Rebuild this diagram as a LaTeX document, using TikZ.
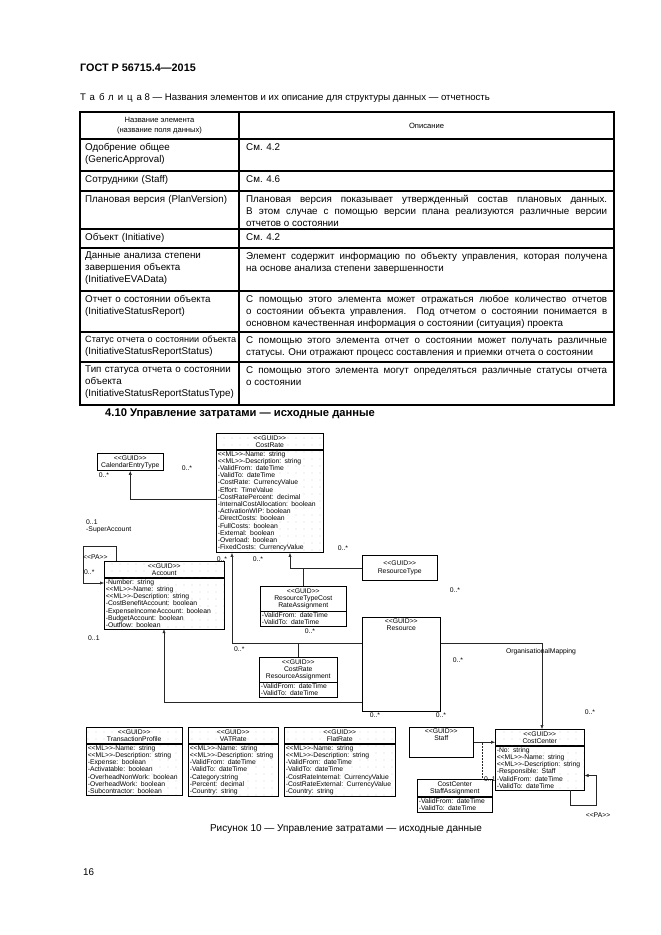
\documentclass[tikz,border=0pt]{standalone}
\usepackage{fontspec}
\usepackage{graphicx}
\setmainfont{Liberation Sans}
\usetikzlibrary{arrows.meta,positioning,patterns}

\newcommand{\stereo}[1]{<{}<#1>{}>}

% sparse grid dots of the drawing sheet inside some classes
\pgfdeclarepatternformonly{griddots}{\pgfpoint{-0.5pt}{-0.5pt}}{\pgfpoint{0.5pt}{0.5pt}}{\pgfpoint{8pt}{7pt}}
  {\pgfpathcircle{\pgfpointorigin}{0.33pt}\pgfusepath{fill}}

\tikzset{
  tline/.style={line width=1.1pt},
  cellL/.style={anchor=north west, inner sep=0pt, text width=153pt, align=left,
    font=\fontsize{9.8}{12}\selectfont},
  cellR/.style={anchor=north west, inner sep=0pt, text width=361pt, align=justify,
    font=\fontsize{9.8}{12}\selectfont},
  umlfont/.style={font=\fontsize{6.8}{7.2}\selectfont},
  clshead/.style={draw, line width=0.5pt, anchor=north west, inner xsep=1.5pt,
    inner ysep=2pt, align=center, text width=#1, umlfont},
  clsbody/.style={draw, line width=0.5pt, anchor=north west, inner xsep=1.5pt,
    inner ysep=1.5pt, align=left, text width=#1, umlfont},
  clsbox/.style={draw, line width=0.5pt, anchor=north west, inner sep=0pt},
  clsname/.style={anchor=north, inner sep=1.5pt, align=center, umlfont},
  dotbg/.style={pattern=griddots, pattern color=black!45},
  mult/.style={inner sep=0pt, umlfont},
  link/.style={line width=0.5pt, draw=black!85},
  tip/.style={-{Latex[length=4pt,width=3.2pt]}},
}

\begin{document}
\begin{tikzpicture}[x=1pt,y=-1pt]
  \useasboundingbox (0,0) rectangle (661,935);
  \fill[white] (0,0) rectangle (661,935);

  % page head and table caption
  \node[anchor=west, inner sep=0pt, font=\fontsize{10.8}{12}\selectfont\bfseries] (gost) at (80,68) {ГОСТ Р 56715.4—2015};
  \node[anchor=west, inner sep=0pt, font=\fontsize{9.6}{11}\selectfont] (tcap) at (80,98)
    {{\addfontfeature{LetterSpace=42}Таблица} 8 — Названия элементов и их описание для структуры данных — отчетность};

  % table grid
  \draw[tline] (80,112) rectangle (614,405);
  \draw[tline] (239,112) -- (239,405);
  \foreach \y in {139,171,191,229,248,291,332,362}
    \draw[tline] (80,\y) -- (614,\y);

  \node[align=center, font=\fontsize{7.6}{9.5}\selectfont] (th1) at (159.5,125.5) {Название элемента\\(название поля данных)};
  \node[font=\fontsize{7.6}{9.5}\selectfont] (th2) at (426.5,125.5) {Описание};

  \node[cellL] (r1l) at (85,143) {Одобрение общее\\(GenericApproval)};
  \node[cellR] (r1r) at (246,143) {См. 4.2};
  \node[cellL] (r2l) at (85,175) {Сотрудники (Staff)};
  \node[cellR] (r2r) at (246,175) {См. 4.6};
  \node[cellL] (r3l) at (85,195) {Плановая версия (PlanVersion)};
  \node[cellR] (r3r) at (246,195) {Плановая версия показывает утвержденный состав плановых данных.\linebreak
    В~этом случае с помощью версии плана реализуются различные версии\linebreak отчетов о состоянии};
  \node[cellL] (r4l) at (85,233) {Объект (Initiative)};
  \node[cellR] (r4r) at (246,233) {См. 4.2};
  \node[cellL] (r5l) at (85,252) {Данные анализа степени\\завершения объекта\\(InitiativeEVAData)};
  \node[cellR] (r5r) at (246,252) {Элемент содержит информацию по объекту управления, которая получена\linebreak
    на основе анализа степени завершенности};
  \node[cellL] (r6l) at (85,295) {Отчет о состоянии объекта\\(InitiativeStatusReport)};
  \node[cellR] (r6r) at (246,295) {С помощью этого элемента может отражаться любое количество отчетов\linebreak
    о состоянии объекта управления. Под отчетом о состоянии понимается в\linebreak
    основном качественная информация о состоянии (ситуация) проекта};
  \node[cellL] (r7l) at (85,336) {\resizebox{151pt}{!}{Статус отчета о состоянии объекта}\\(InitiativeStatusReportStatus)};
  \node[cellR] (r7r) at (246,336) {С помощью этого элемента отчет о состоянии может получать различные\linebreak
    статусы. Они отражают процесс составления и приемки отчета о состоянии};
  \node[cellL] (r8l) at (85,366) {Тип статуса отчета о состоянии\\объекта\\(InitiativeStatusReportStatusType)};
  \node[cellR] (r8r) at (246,366) {С помощью этого элемента могут определяться различные статусы отчета\linebreak
    о состоянии};

  \node[anchor=west, inner sep=0pt, font=\fontsize{11.2}{13}\selectfont\bfseries] (sec) at (105,414)
    {4.10 Управление затратами — исходные данные};

  % classes, top part
  \node[clshead=63pt] (cet) at (97,453) {\stereo{GUID}\\CalendarEntryType};

  \node[clshead=104pt, dotbg] (crh) at (216,433) {\stereo{GUID}\\CostRate};
  \node[clsbody=104pt, dotbg] (crb) at (crh.south west) {\stereo{ML}-Name: string\\\stereo{ML}-Description: string\\
    -ValidFrom: dateTime\\-ValidTo: dateTime\\-CostRate: CurrencyValue\\-Effort: TimeValue\\
    -CostRatePercent: decimal\\-InternalCostAllocation: boolean\\-ActivationWIP: boolean\\
    -DirectCosts: boolean\\-FullCosts: boolean\\-External: boolean\\-Overload: boolean\\
    -FixedCosts: CurrencyValue};

  \node[clshead=117pt, dotbg] (acch) at (104,561) {\stereo{GUID}\\Account};
  \node[clsbody=117pt, dotbg] (accb) at (acch.south west) {-Number: string\\\stereo{ML}-Name: string\\
    \stereo{ML}-Description: string\\-CostBenefitAccount: boolean\\-ExpenseIncomeAccount: boolean\\
    -BudgetAccount: boolean\\-Outflow: boolean};

  \node[clsbox, minimum width=75pt, minimum height=25pt, align=center, umlfont] (rt) at (362,555)
    {\stereo{GUID}\\ResourceType};

  \node[clshead=83pt] (rtch) at (260,586) {\stereo{GUID}\\ResourceTypeCost\\RateAssignment};
  \node[clsbody=83pt] (rtcb) at (rtch.south west) {-ValidFrom: dateTime\\-ValidTo: dateTime};

  \node[clshead=75pt] (crrh) at (259,657) {\stereo{GUID}\\CostRate\\ResourceAssignment};
  \node[clsbody=75pt] (crrb) at (crrh.south west) {-ValidFrom: dateTime\\-ValidTo: dateTime};

  \node[clsbox, minimum width=78pt, minimum height=94pt] (res) at (362,617) {};
  \node[clsname] (resn) at (res.north) {\stereo{GUID}\\Resource};

  % classes, bottom row
  \node[clshead=93pt, dotbg] (tph) at (86,727) {\stereo{GUID}\\TransactionProfile};
  \node[clsbody=93pt, dotbg] (tpb) at (tph.south west) {\stereo{ML}-Name: string\\\stereo{ML}-Description: string\\
    -Expense: boolean\\-Activatable: boolean\\-OverheadNonWork: boolean\\-OverheadWork: boolean\\
    -Subcontractor: boolean};

  \node[clshead=87pt, dotbg] (vath) at (188,727) {\stereo{GUID}\\VATRate};
  \node[clsbody=87pt, dotbg] (vatb) at (vath.south west) {\stereo{ML}-Name: string\\\stereo{ML}-Description: string\\
    -ValidFrom: dateTime\\-ValidTo: dateTime\\-Category:string\\-Percent: decimal\\-Country: string};

  \node[clshead=108pt, dotbg] (flh) at (284,727) {\stereo{GUID}\\FlatRate};
  \node[clsbody=108pt, dotbg] (flb) at (flh.south west) {\stereo{ML}-Name: string\\\stereo{ML}-Description: string\\
    -ValidFrom: dateTime\\-ValidTo: dateTime\\-CostRateInternal: CurrencyValue\\
    -CostRateExternal: CurrencyValue\\-Country: string};

  \node[clsbox, minimum width=64pt, minimum height=30pt] (staff) at (409,727) {};
  \node[clsname] (staffn) at (staff.north) {\stereo{GUID}\\Staff};

  \node[clshead=86pt, dotbg] (cch) at (495,729) {\stereo{GUID}\\CostCenter};
  \node[clsbody=86pt, dotbg] (ccb) at (cch.south west) {-No: string\\\stereo{ML}-Name: string\\
    \stereo{ML}-Description: string\\-Responsible: Staff\\-ValidFrom: dateTime\\-ValidTo: dateTime};

  \node[clshead=72pt] (cssh) at (417,779) {CostCenter\\StaffAssignment};
  \node[clsbody=72pt] (cssb) at (cssh.south west) {-ValidFrom: dateTime\\-ValidTo: dateTime};

  % associations
  \draw[link,tip] ([yshift=-50pt]crb.north west) -| (cet.south);
  \draw[link,tip] ([xshift=12pt]acch.north west) -- ++(0,-15) -- ++(-33,0)
    |- ([yshift=-22pt]acch.north west);
  \draw[link,tip] (rt.west) -| ([xshift=74pt]crb.south west) coordinate (crrt);
  \draw[link] (rtch.north) -- (rtch.north |- rt.west);
  \draw[link,tip] ([yshift=-26pt]res.north west) coordinate (crres) -| ([xshift=16pt]crb.south west);
  \draw[link] (crrh.north) -- (crrh.north |- crres);
  \draw[link,tip] ([yshift=-85pt]res.north west) -| ([xshift=60pt]accb.south west);
  \draw[link,tip] ([yshift=-26pt]res.north east) -| ([xshift=47pt]cch.north west);
  \draw[link,tip] (staff.east) -- (staff.east -| cch.west) coordinate (ccst);
  \draw[link,densely dotted] ([xshift=65pt]cssh.north west) -- ([xshift=65pt]cssh.north west |- staff.east);
  \draw[link,tip] ([xshift=-14pt]ccb.south east) -- ++(0,15) -- ++(26,0)
    |- ([yshift=-30pt]ccb.north east);

  % multiplicities and role names
  \node[mult] (m1) at (104,475) {0..*};
  \node[mult] (m2) at (187,468) {0..*};
  \node[mult] (m3) at (222,559) {0..*};
  \node[mult] (m4) at (258,559) {0..*};
  \node[mult] (m5) at (343,548) {0..*};
  \node[mult] (m6) at (455,590) {0..*};
  \node[mult, anchor=west] (m7) at (86,522) {0..1};
  \node[mult, anchor=west] (sup) at (86,530) {-SuperAccount};
  \node[mult, anchor=west] (pa1) at (83,557) {\stereo{PA}};
  \node[mult, anchor=west] (m8) at (84,572) {0..*};
  \node[mult, anchor=west] (m9) at (88,638) {0..1};
  \node[mult, anchor=west] (m10) at (234,649) {0..*};
  \node[mult] (m11) at (310,631) {0..*};
  \node[mult] (m12) at (458,660) {0..*};
  \node[mult] (om) at (541,652) {OrganisationalMapping};
  \node[mult] (m13) at (590,712) {0..*};
  \node[mult] (m14) at (375,715) {0..*};
  \node[mult] (m15) at (441,715) {0..*};
  \node[mult, anchor=west] (m16) at (484,779) {0..1};
  \node[mult] (pa2) at (598,815) {\stereo{PA}};

  \node[font=\fontsize{10}{12}\selectfont] (fig) at (346,829) {Рисунок 10 — Управление затратами — исходные данные};
  \node[anchor=west, inner sep=0pt, font=\fontsize{9.8}{12}\selectfont] (pg) at (83,872) {16};
\end{tikzpicture}
\end{document}
